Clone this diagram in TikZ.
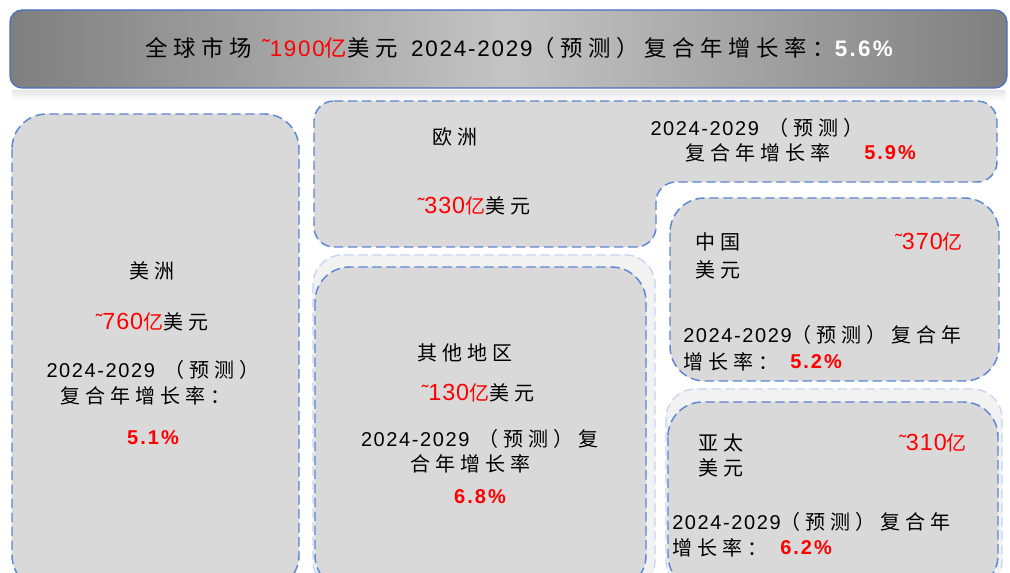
\documentclass[tikz,border=0pt]{standalone}
\usepackage{fontspec}
\setmainfont{Noto Sans CJK SC}[LetterSpace=25]
\newfontfamily\latb{Liberation Sans}[LetterSpace=10]
\newfontfamily\numf{Liberation Sans}[LetterSpace=8]
\newfontfamily\amtf{Liberation Sans}[LetterSpace=4]
\newfontfamily\tilf{Liberation Sans}
\definecolor{boxfill}{HTML}{D9D9D9}
\definecolor{dashblue}{HTML}{5B86D4}
\definecolor{barblue}{HTML}{4472C4}
\definecolor{rd}{HTML}{FF0000}
\definecolor{bardark}{HTML}{7F7F7F}
\definecolor{barlight}{HTML}{C4C4C4}
\tikzset{
 region/.style={fill=boxfill, draw=dashblue, line width=1.1pt, dash pattern=on 7pt off 3.5pt},
 ghost/.style={fill=gray!10, draw=dashblue!35, line width=1pt, dash pattern=on 7pt off 3.5pt},
 txt/.style={font=\fontsize{15}{18}\selectfont, inner sep=0pt},
 toptxt/.style={font=\fontsize{16.8}{20}\selectfont, inner sep=0pt},
 pct/.style={font=\fontsize{15}{18}\selectfont\latb\bfseries, text=rd, inner sep=0pt},
}
\newcommand{\rtil}{{\tilf\raisebox{1pt}{˜}}}
\newcommand{\nm}[1]{{\numf #1}}
\newcommand{\amt}[1]{{\color{rd}\rtil{\amtf\fontsize{17.5}{18}\selectfont #1}亿}}
\newcommand{\yr}{\nm{2024-2029}}
\begin{document}
\begin{tikzpicture}[x=0.75pt,y=-0.75pt]
\useasboundingbox (0,0) rectangle (1010,573);
\clip (0,0) rectangle (1010,573);
\fill[white] (0,0) rectangle (1010,573);
% top bar
\shade[left color=bardark, right color=bardark, middle color=barlight, rounded corners=9pt] (10,10) rectangle (1007,88);
\draw[barblue, line width=0.9pt, rounded corners=9pt] (10,10) rectangle (1007,88);
\shade[top color=gray!18, bottom color=white] (12,91) rectangle (1005,101);
\node[toptxt] (glob) at (519,48) {全球市场 {\color{rd}\rtil\nm{1900}亿}美元\hspace{10pt}\yr（预测）复合年增长率：{\color{white}\latb\bfseries 5.6\%}};
% ghosts
\draw[ghost, rounded corners=22pt] (313,255) rectangle (655,590);
\draw[ghost, rounded corners=22pt] (666,389) rectangle (1002,590);
% Americas
\draw[region, rounded corners=26pt] (12,114) rectangle (299,590);
\node[txt] (am1) at (152,271) {美洲};
\node[txt] (am2) at (152,322) {\amt{760}美元};
\node[txt] (am3) at (153,370) {\yr\ （预测）};
\node[txt] (am4) at (145,396) {复合年增长率：};
\node[pct] (am5) at (153,438) {5.1\%};
% Europe
\draw[region, rounded corners=15pt] (314,101) -- (997,101) -- (997,182) -- (656,182) -- (656,247) -- (314,247) -- cycle;
\node[txt] (eu1) at (455,137) {欧洲};
\node[txt] (eu2) at (474,206) {\amt{330}美元};
\node[txt] (eu3) at (757,128) {\yr\ （预测）};
\node[txt, anchor=west] (eu4) at (685,153) {复合年增长率};
\node[pct, anchor=west] (eu5) at (864,153) {5.9\%};
% Other regions
\draw[region, rounded corners=26pt] (315,267) rectangle (646,590);
\node[txt] (ot1) at (465,353) {其他地区};
\node[txt] (ot2) at (478,393) {\amt{130}美元};
\node[txt] (ot3) at (480,439) {\yr\ （预测）复};
\node[txt] (ot4) at (470,464) {合年增长率};
\node[pct] (ot5) at (480,497) {6.8\%};
% China
\draw[region, rounded corners=26pt] (670,198) rectangle (999,381);
\node[txt, anchor=west] (cn1) at (695,242) {中国};
\node[txt, anchor=east] (cn2) at (963,242) {\amt{370}};
\node[txt, anchor=west] (cn3) at (695,270) {美元};
\node[txt, anchor=west] (cn4) at (683,335) {\yr（预测）复合年};
\node[txt, anchor=west] (cn5) at (683,362) {增长率：};
\node[pct, anchor=west] (cn6) at (790,362) {5.2\%};
% Asia Pacific
\draw[region, rounded corners=26pt] (668,402) rectangle (998,590);
\node[txt, anchor=west] (ap1) at (698,443) {亚太};
\node[txt, anchor=east] (ap2) at (967,443) {\amt{310}};
\node[txt, anchor=west] (ap3) at (698,468) {美元};
\node[txt, anchor=west] (ap4) at (672,522) {\yr（预测）复合年};
\node[txt, anchor=west] (ap5) at (672,548) {增长率：};
\node[pct, anchor=west] (ap6) at (780,548) {6.2\%};
\end{tikzpicture}
\end{document}
